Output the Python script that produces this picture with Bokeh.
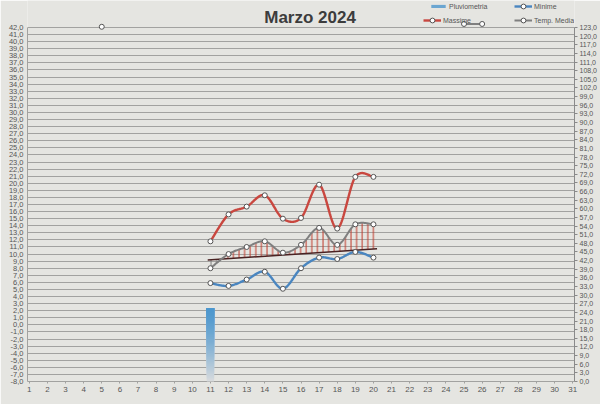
import numpy as np
from bokeh.plotting import figure
from bokeh.models import Range1d, LinearAxis, FixedTicker, Legend, LegendItem, Label
from bokeh.embed import file_html
from bokeh.resources import INLINE

# ---------------- data ----------------
title_text = "Marzo 2024"
days = list(range(1, 32))
rain_days = [11]
rain_mm = [25.5]
meas_days = [11, 12, 13, 14, 15, 16, 17, 18, 19, 20]
massime = [11.8, 15.6, 16.7, 18.3, 15.0, 15.1, 19.8, 13.6, 20.9, 20.9]
minime = [5.9, 5.5, 6.4, 7.5, 5.1, 8.0, 9.5, 9.3, 10.3, 9.5]
temp_days = [5, 11, 12, 13, 14, 15, 16, 17, 18, 19, 20, 25, 26]
temp_media = [42.1, 8.0, 10.0, 11.0, 11.8, 10.2, 11.3, 13.7, 11.3, 14.2, 14.2, 42.5, 42.5]
trend_days = [10.85, 20.2]
trend_vals = [9.15, 10.75]
left_ticks = list(range(-8, 43))
right_ticks = list(range(0, 124, 3))
series_names = ["Pluviometria", "Minime", "Massime", "Temp. Media"]

# ---------------- style ----------------
BG = "#e5e5e1"
GRID = "#a2a2a0"
RED = "#c9473f"
BLUE = "#4a86c0"
GRAY = "#7f7f7f"
FONT = "Liberation Sans"
LEFT_MIN, LEFT_MAX = -8, 42
RIGHT_MAX = 123
W, H = 600, 404
BORDER_L, BORDER_R, BORDER_B = 27, 26, 23
FRAME_H = H - BORDER_B
PX_PER_UNIT = 7.08
Y_TOP = LEFT_MIN + FRAME_H / PX_PER_UNIT
right_end = (Y_TOP - LEFT_MIN) * RIGHT_MAX / (LEFT_MAX - LEFT_MIN)


def smooth_curve(xs, ys, n=30):
    P = np.column_stack([np.asarray(xs, float), np.asarray(ys, float)])
    m = len(P)
    if m < 3:
        return P[:, 0], P[:, 1]
    out = []
    t = np.linspace(0, 1, n)[:, None]
    for i in range(m - 1):
        p0 = P[max(i - 1, 0)]
        p1 = P[i]
        p2 = P[i + 1]
        p3 = P[min(i + 2, m - 1)]
        c1 = p1 + (p2 - p0) / 6.0
        c2 = p2 - (p3 - p1) / 6.0
        seg = (1 - t) ** 3 * p1 + 3 * (1 - t) ** 2 * t * c1 + 3 * (1 - t) * t ** 2 * c2 + t ** 3 * p2
        if i > 0:
            seg = seg[1:]
        out.append(seg)
    arr = np.vstack(out)
    return arr[:, 0], arr[:, 1]


def fmt(v):
    return f"{v:.1f}".replace(".", ",")


p = figure(width=W, height=H, title=None,
           x_range=Range1d(0.9, 31.1), y_range=Range1d(LEFT_MIN, Y_TOP),
           output_backend="svg", toolbar_location=None,
           min_border_top=0, min_border_left=BORDER_L, min_border_right=BORDER_R,
           min_border_bottom=BORDER_B,
           background_fill_color=BG, border_fill_color=BG)
p.outline_line_color = None
p.extra_y_ranges = {"rain": Range1d(0, right_end)}

# axes
lt = FixedTicker(ticks=left_ticks)
p.yaxis.ticker = lt
p.ygrid.ticker = lt
p.ygrid.grid_line_color = GRID
p.ygrid.grid_line_width = 1
p.ygrid.level = "underlay"
p.xgrid.visible = False
p.yaxis.bounds = (LEFT_MIN, LEFT_MAX)
p.yaxis.major_label_overrides = {t: fmt(t) for t in left_ticks}
p.yaxis.minor_tick_line_color = None
p.yaxis.major_tick_out = 0
p.yaxis.major_tick_in = 0
p.yaxis.major_label_standoff = 4
p.yaxis.axis_line_color = GRID
p.yaxis.major_label_text_font_size = "7.5px"
p.yaxis.major_label_text_color = "#555555"
p.yaxis.major_label_text_font = FONT

p.xaxis.ticker = FixedTicker(ticks=days)
p.xaxis.major_label_overrides = {d: str(d) for d in days}
p.xaxis.minor_tick_line_color = None
p.xaxis.major_tick_out = 2
p.xaxis.major_tick_in = 0
p.xaxis.major_tick_line_color = GRID
p.xaxis.axis_line_color = GRID
p.xaxis.major_label_standoff = 3
p.xaxis.major_label_text_font_size = "8px"
p.xaxis.major_label_text_color = "#555555"
p.xaxis.major_label_text_font = FONT

ra = LinearAxis(y_range_name="rain", ticker=FixedTicker(ticks=right_ticks), bounds=(0, RIGHT_MAX))
ra.major_label_overrides = {t: fmt(t) for t in right_ticks}
ra.minor_tick_line_color = None
ra.major_tick_out = 3
ra.major_tick_in = 0
ra.major_tick_line_color = "#8a8a8a"
ra.axis_line_color = "#8a8a8a"
ra.major_label_standoff = 2
ra.major_label_text_font_size = "7px"
ra.major_label_text_color = "#555555"
ra.major_label_text_font = FONT
p.add_layout(ra, "right")

# rain bar with vertical gradient: overlapping slices derived from the value
n = 60
top_c = np.array([78, 152, 206])
bot_c = np.array([218, 220, 222])
bx, bb, bt, bc = [], [], [], []
for d, v in zip(rain_days, rain_mm):
    for i in range(n):
        f = (i + 0.5) / n
        w = 1 - (1 - f) ** 1.4
        c = (bot_c * (1 - w) + top_c * w).astype(int)
        bx.append(d)
        bb.append(v * i / n)
        bt.append(v)
        bc.append("#%02x%02x%02x" % tuple(c))
bar = p.vbar(x=bx, bottom=bb, top=bt, width=0.4, fill_color=bc, fill_alpha=1.0,
             line_color=None, y_range_name="rain", level="overlay")

# hatched area between temp media and trend
xg = np.linspace(trend_days[0], trend_days[1], 500)
i0 = temp_days.index(meas_days[0])
t_seg = temp_media[i0:i0 + len(meas_days)]
sx, sy = smooth_curve(meas_days, t_seg)
gray_g = np.interp(xg, sx, sy)
tr_g = np.interp(xg, trend_days, trend_vals)
p.varea(x=xg, y1=tr_g, y2=np.maximum(gray_g, tr_g), fill_color=None, fill_alpha=0,
        hatch_pattern="vertical_line", hatch_color="#c0392b", hatch_scale=5.6, hatch_weight=1)
p.varea(x=xg, y1=np.minimum(gray_g, tr_g), y2=tr_g, fill_color=None, fill_alpha=0,
        hatch_pattern="vertical_line", hatch_color="#808080", hatch_scale=5.6, hatch_weight=1)
p.line(x=trend_days, y=trend_vals, line_color="#4a2222", line_width=1.5)

# lines
mx, my = smooth_curve(meas_days, massime)
red_line = p.line(mx, my, line_color=RED, line_width=2.4)
nx, ny = smooth_curve(meas_days, minime)
blue_line = p.line(nx, ny, line_color=BLUE, line_width=2.4)

segs = []
cur = [0]
for k in range(1, len(temp_days)):
    if temp_days[k] - temp_days[k - 1] == 1:
        cur.append(k)
    else:
        segs.append(cur)
        cur = [k]
segs.append(cur)
gray_lines = []
for s in segs:
    if len(s) < 2:
        continue
    gx, gy = smooth_curve([temp_days[k] for k in s], [temp_media[k] for k in s])
    gray_lines.append(p.line(gx, gy, line_color=GRAY, line_width=2))

mk = dict(size=5, marker="circle", fill_color="white", line_color="#555555", line_width=1)
red_pts = p.scatter(meas_days, massime, **mk)
blue_pts = p.scatter(meas_days, minime, **mk)
gray_pts = p.scatter(temp_days, temp_media, **mk)

# title
p.add_layout(Label(x=16.5, y=LEFT_MAX + 10 / PX_PER_UNIT, text=title_text, text_align="center",
                   text_baseline="middle", text_font=FONT, text_font_style="bold",
                   text_font_size="17px", text_color="#3c3c3c"))

# legends (positions in px from the frame's bottom-left)
common = dict(background_fill_alpha=0, border_line_color=None, label_text_font_size="7px",
              label_text_color="#555555", label_text_font=FONT, glyph_width=18, label_standoff=2,
              padding=0, margin=0, spacing=2, label_height=12)
L1 = Legend(items=[LegendItem(label=series_names[0], renderers=[bar], index=n - 20)],
            location=(402, FRAME_H - 12), glyph_height=4, **common)
L3 = Legend(items=[LegendItem(label=series_names[2], renderers=[red_line, red_pts])],
            location=(396, FRAME_H - 26), glyph_height=12, **common)
L2 = Legend(items=[LegendItem(label=series_names[1], renderers=[blue_line, blue_pts]),
                   LegendItem(label=series_names[3], renderers=[gray_lines[0], gray_pts])],
            location=(487, FRAME_H - 26), glyph_height=12, **common)
for L in (L1, L2, L3):
    p.add_layout(L, "center")

open("out.html", "w").write(file_html(p, INLINE))
